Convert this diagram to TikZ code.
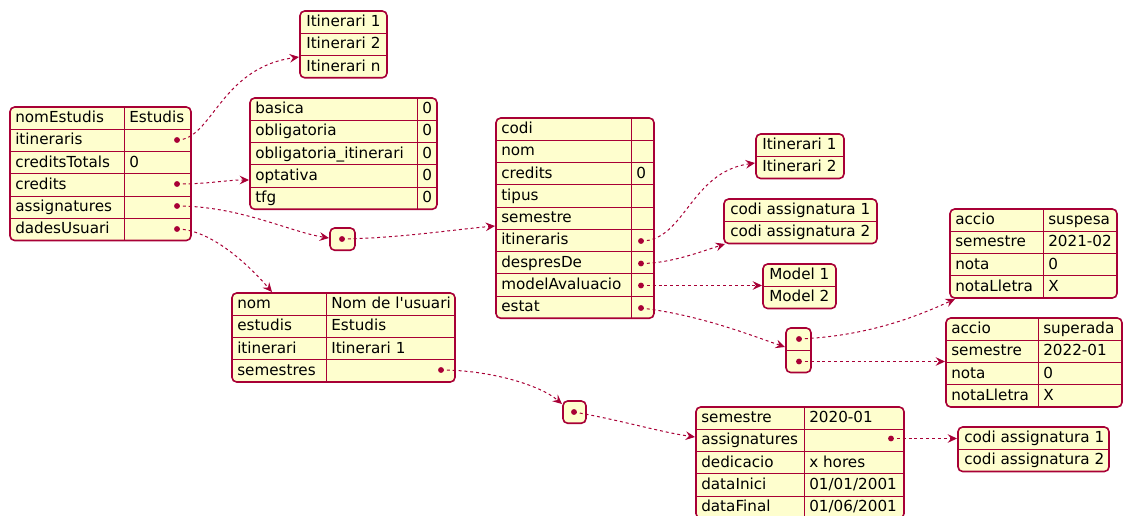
\documentclass[tikz,border=0pt]{standalone}
\usepackage{fontspec}
\setmainfont{DejaVu Sans}
\usetikzlibrary{arrows.meta}
\definecolor{jred}{HTML}{A80036}
\definecolor{jfill}{HTML}{FEFECE}
\newcounter{jt}
\tikzset{
  jb/.style={draw=jred, fill=jfill, line width=1.2pt, rounded corners=3.5pt, inner sep=0pt, outer sep=0pt},
  jl/.style={draw=jred, line width=0.75pt},
  txt/.style={anchor=base west, inner sep=0pt, font=\fontsize{11.4}{13}\selectfont},
  jdot/.style={circle, fill=jred, inner sep=0pt, minimum size=4.4pt},
  conn/.style={draw=jred, line width=0.75pt, dash pattern=on 2.2pt off 2.2pt,
    -{Stealth[length=7pt, width=6.5pt, inset=2.5pt]}},
}
% box: name, x, y, width, divider x (0 = none), rows
\newcommand\jtbl[6]{%
  \node[jb, anchor=north west, minimum width={#4*0.75pt}, minimum height={#6*22.25*0.75pt}] (#1) at (#2,#3) {};
  \pgfmathtruncatemacro\jn{#6-1}%
  \ifnum\jn>0 \foreach \i in {1,...,\jn}{\draw[jl] (#2,{#3+\i*22.25}) -- ({#2+#4},{#3+\i*22.25});}\fi
  \ifdim #5pt>0pt \draw[jl] (#5,#3) -- (#5,{#3+#6*22.25});\fi
}
% key/value row: box x, box y, row index, divider x, key, value
\newcommand\jkv[6]{%
  \stepcounter{jt}%
  \node[txt] (k\arabic{jt}) at ({#1+5},{#2+(#3-1)*22.25+15.5}) {#5};
  \node[txt] (v\arabic{jt}) at ({#4+5},{#2+(#3-1)*22.25+15.5}) {#6};
}
% single column row: box x, box y, row index, text
\newcommand\jone[4]{%
  \stepcounter{jt}%
  \node[txt] (s\arabic{jt}) at ({#1+6},{#2+(#3-1)*22.25+15.5}) {#4};
}
\begin{document}
\begin{tikzpicture}[x=0.75pt, y=-0.75pt]
\useasboundingbox (0,0) rectangle (1125,515);

% A root
\jtbl{A}{10}{107}{181}{124}{6}
\jkv{10}{107}{1}{124}{nomEstudis}{Estudis}
\jkv{10}{107}{2}{124}{itineraris}{}
\jkv{10}{107}{3}{124}{creditsTotals}{0}
\jkv{10}{107}{4}{124}{credits}{}
\jkv{10}{107}{5}{124}{assignatures}{}
\jkv{10}{107}{6}{124}{dadesUsuari}{}
\node[jdot] (dA1) at (177,140) {};
\node[jdot] (dA2) at (177,184) {};
\node[jdot] (dA3) at (177,206) {};
\node[jdot] (dA4) at (177,229) {};

% B itineraris
\jtbl{B}{300}{11}{87}{0}{3}
\jone{300}{11}{1}{Itinerari 1}
\jone{300}{11}{2}{Itinerari 2}
\jone{300}{11}{3}{Itinerari n}

% C credits
\jtbl{C}{250}{98}{187}{417}{5}
\jkv{250}{98}{1}{417}{basica}{0}
\jkv{250}{98}{2}{417}{obligatoria}{0}
\jkv{250}{98}{3}{417}{obligatoria\_itinerari}{0}
\jkv{250}{98}{4}{417}{optativa}{0}
\jkv{250}{98}{5}{417}{tfg}{0}

% D array
\jtbl{D}{330}{228}{25}{0}{1}
\node[jdot] (dD) at (342,239) {};

% E usuari
\jtbl{E}{232}{293}{223}{326}{4}
\jkv{232}{293}{1}{326}{nom}{Nom de l\textquotesingle usuari}
\jkv{232}{293}{2}{326}{estudis}{Estudis}
\jkv{232}{293}{3}{326}{itinerari}{Itinerari 1}
\jkv{232}{293}{4}{326}{semestres}{}
\node[jdot] (dE) at (441,370) {};

% F array
\jtbl{F}{563}{401}{23}{0}{1}
\node[jdot] (dF) at (574,412) {};

% G semestre
\jtbl{G}{696}{407}{208}{804}{5}
\jkv{696}{407}{1}{804}{semestre}{2020-01}
\jkv{696}{407}{2}{804}{assignatures}{}
\jkv{696}{407}{3}{804}{dedicacio}{x hores}
\jkv{696}{407}{4}{804}{dataInici}{01/01/2001}
\jkv{696}{407}{5}{804}{dataFinal}{01/06/2001}
\node[jdot] (dG) at (891,438.5) {};

% H assignatura
\jtbl{H}{496}{118}{158}{631}{9}
\jkv{496}{118}{1}{631}{codi}{}
\jkv{496}{118}{2}{631}{nom}{}
\jkv{496}{118}{3}{631}{credits}{0}
\jkv{496}{118}{4}{631}{tipus}{}
\jkv{496}{118}{5}{631}{semestre}{}
\jkv{496}{118}{6}{631}{itineraris}{}
\jkv{496}{118}{7}{631}{despresDe}{}
\jkv{496}{118}{8}{631}{modelAvaluacio}{}
\jkv{496}{118}{9}{631}{estat}{}
\node[jdot] (dH1) at (641,241) {};
\node[jdot] (dH2) at (641,263.5) {};
\node[jdot] (dH3) at (641,285.5) {};
\node[jdot] (dH4) at (641,308) {};

% I
\jtbl{I}{756}{134}{88}{0}{2}
\jone{756}{134}{1}{Itinerari 1}
\jone{756}{134}{2}{Itinerari 2}

% J
\jtbl{J}{724}{199}{153}{0}{2}
\jone{724}{199}{1}{codi assignatura 1}
\jone{724}{199}{2}{codi assignatura 2}

% K
\jtbl{K}{763}{264}{73}{0}{2}
\jone{763}{264}{1}{Model 1}
\jone{763}{264}{2}{Model 2}

% L array
\jtbl{L}{786}{328}{25}{0}{2}
\node[jdot] (dL1) at (799,339) {};
\node[jdot] (dL2) at (799,361.5) {};

% M
\jtbl{M}{950}{209}{167}{1043}{4}
\jkv{950}{209}{1}{1043}{accio}{suspesa}
\jkv{950}{209}{2}{1043}{semestre}{2021-02}
\jkv{950}{209}{3}{1043}{nota}{0}
\jkv{950}{209}{4}{1043}{notaLletra}{X}

% N
\jtbl{N}{946}{318}{176}{1038}{4}
\jkv{946}{318}{1}{1038}{accio}{superada}
\jkv{946}{318}{2}{1038}{semestre}{2022-01}
\jkv{946}{318}{3}{1038}{nota}{0}
\jkv{946}{318}{4}{1038}{notaLletra}{X}

% O
\jtbl{O}{958}{427}{151}{0}{2}
\jone{958}{427}{1}{codi assignatura 1}
\jone{958}{427}{2}{codi assignatura 2}

% targets
\coordinate (tB) at (299,57);
\coordinate (tC) at (249,180);
\coordinate (tD) at (329,238);
\coordinate (tE) at (272,292);
\coordinate (tH) at (495,226);
\coordinate (tI) at (755,163);
\coordinate (tJ) at (725,244);
\coordinate (tK) at (762,285.5);
\coordinate (tL) at (785,347);
\coordinate (tM) at (955,299);
\coordinate (tN) at (945,361.5);
\coordinate (tF) at (562,404);
\coordinate (tG) at (695,437);
\coordinate (tO) at (957,438.5);

% connectors
\draw[conn] (dA1.center) .. controls (212,140) and (220,68) .. (tB);
\draw[conn] (dA2.center) .. controls (210,184) and (225,180) .. (tC);
\draw[conn] (dA3.center) .. controls (240,206) and (290,232) .. (tD);
\draw[conn] (dA4.center) .. controls (205,229) and (240,255) .. (tE);
\draw[conn] (dD.center) .. controls (400,238) and (450,230) .. (tH);
\draw[conn] (dH1.center) .. controls (685,241) and (690,172) .. (tI);
\draw[conn] (dH2.center) .. controls (670,263.5) and (700,252) .. (tJ);
\draw[conn] (dH3.center) -- (tK);
\draw[conn] (dH4.center) .. controls (700,315) and (750,335) .. (tL);
\draw[conn] (dL1.center) .. controls (870,336) and (920,315) .. (tM);
\draw[conn] (dL2.center) -- (tN);
\draw[conn] (dE.center) .. controls (490,370) and (540,385) .. (tF);
\draw[conn] (dF.center) .. controls (620,420) and (660,432) .. (tG);
\draw[conn] (dG.center) -- (tO);
\end{tikzpicture}
\end{document}
